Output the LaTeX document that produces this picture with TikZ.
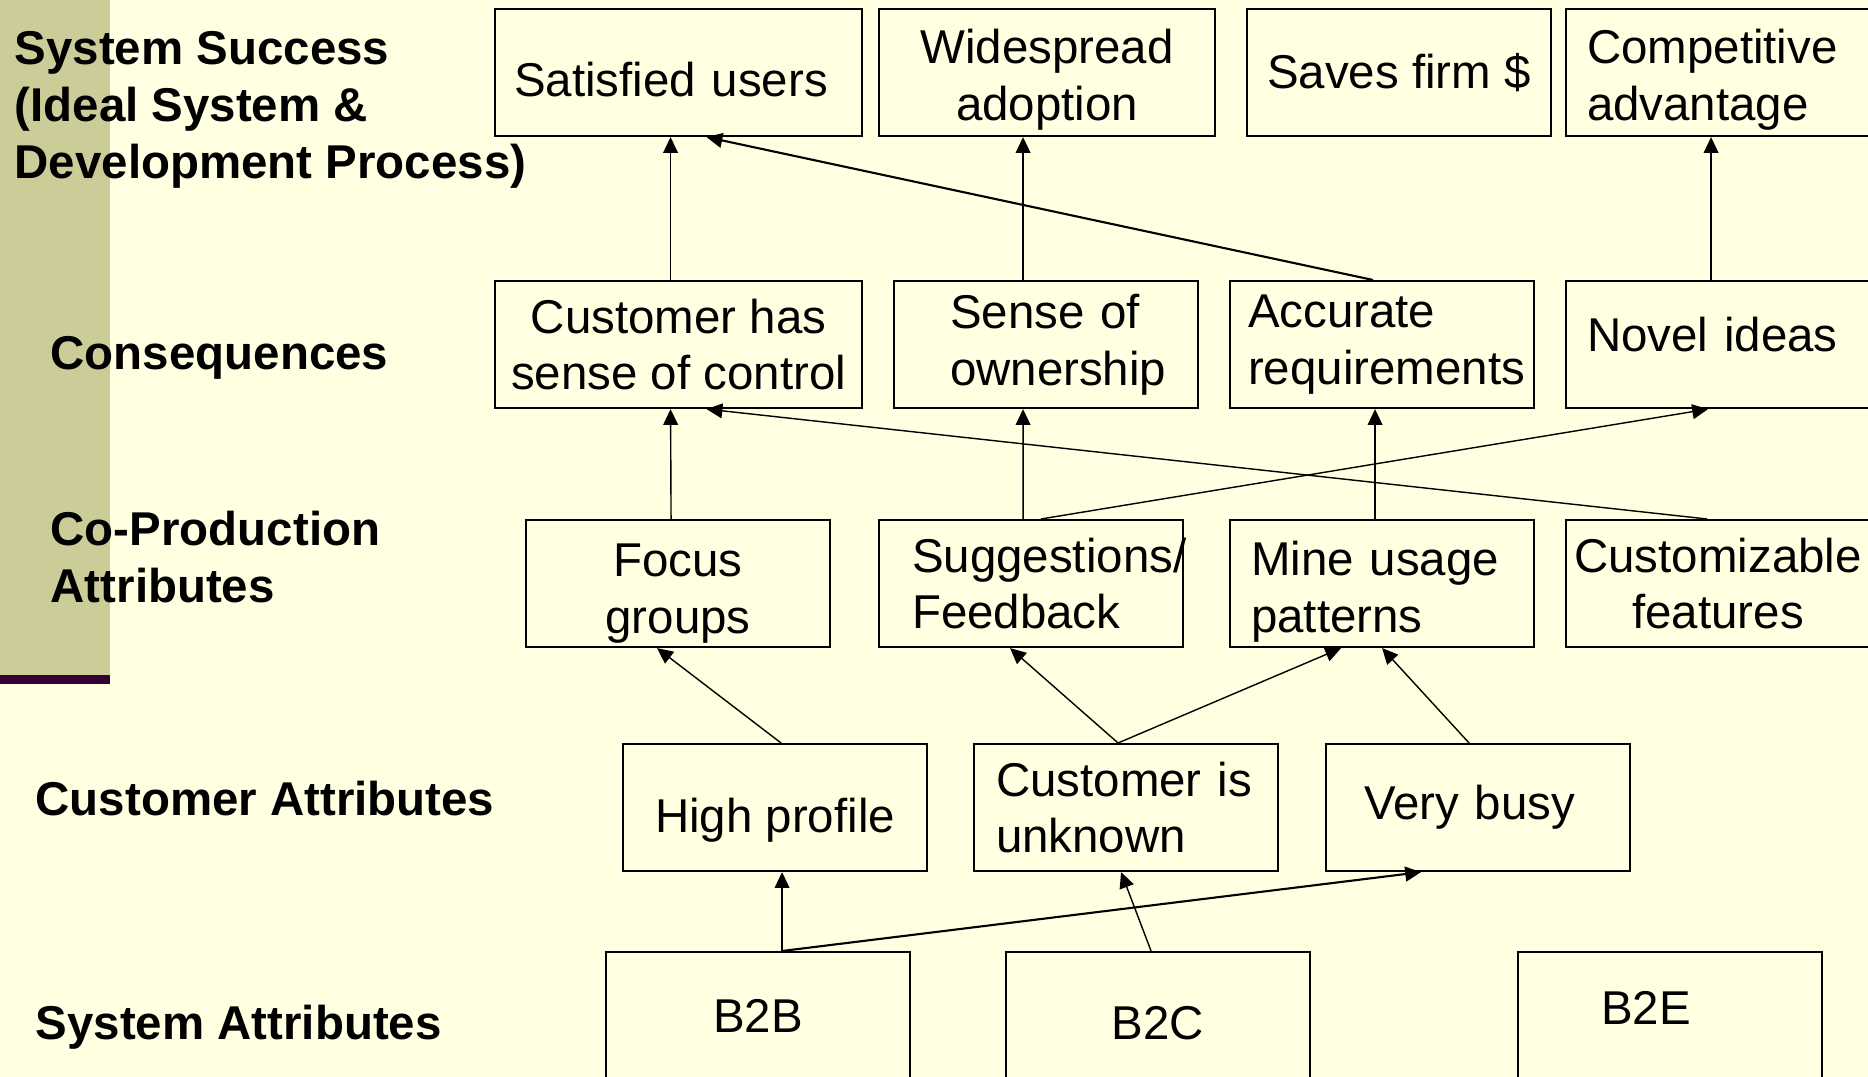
\documentclass[tikz,border=0pt]{standalone}
\usepackage{fontspec}
\setmainfont{Liberation Sans}
\usepackage{tikz}
\usetikzlibrary{arrows.meta}
\definecolor{slide-bg}{HTML}{FFFFE1}
\definecolor{slide-bar}{HTML}{CCCC99}
\definecolor{slide-rule}{HTML}{330033}
\tikzset{
    attr-box/.style = {draw, line width=0.6pt, rectangle, anchor=north west, inner sep=0pt, minimum width=3.04cm, minimum height=1.27cm, align=center, font=\fontsize{13.5}{16.2}\selectfont},
    attr-box-left/.style = {attr-box, align=left, text width=#1},
    level-label/.style = {anchor=west, align=left, inner sep=0pt, font=\fontsize{13.5}{16.2}\selectfont\bfseries},
    link-arrow/.style = {-{Triangle[length=4.5pt,width=4.2pt]}, line width=0.4pt},
}

\begin{document}
\begin{tikzpicture}
\useasboundingbox (0,0) rectangle (18.68,10.77);
\fill[slide-bg] (0,0) rectangle (18.68,10.77);
\fill[slide-bar] (0,10.77) rectangle (1.10,4.02);
\fill[slide-rule] (0,4.02) rectangle (1.10,3.93);

\node[level-label] (lbl-success) at (0.14,9.67) {System Success\\(Ideal System \&\\Development Process)};
\node[level-label] (lbl-conseq) at (0.50,7.19) {Consequences};
\node[level-label] (lbl-coprod) at (0.50,5.20) {Co-Production\\Attributes};
\node[level-label] (lbl-customer) at (0.35,2.78) {Customer Attributes};
\node[level-label] (lbl-system) at (0.35,0.50) {System Attributes};

\node[attr-box-left=3.29cm, minimum width=3.67cm, text height=13.85pt, text depth=0.2pt] (sat) at (4.94,10.69) {Satisfied users};
\node[attr-box, minimum width=3.36cm, text height=30pt, text depth=2.85pt] (wide) at (8.78,10.69) {Widespread\\adoption};
\node[attr-box] (saves) at (12.46,10.69) {Saves firm \$};
\node[attr-box-left=2.62cm, text height=13.8pt, text depth=19.05pt] (comp) at (15.65,10.69) {Competitive\\advantage};

\node[attr-box, minimum width=3.67cm] (ctrl) at (4.94,7.97) {Customer has\\sense of control};
\node[attr-box-left=1.92cm] (own) at (8.93,7.97) {Sense of\\ownership};
\node[attr-box-left=2.68cm] (acc) at (12.29,7.97) {Accurate\\requirements};
\node[attr-box-left=2.62cm, text height=9.8pt, text depth=5.6pt] (novel) at (15.65,7.97) {Novel ideas};

\node[attr-box, text height=31.3pt, text depth=2.85pt] (focus) at (5.25,5.58) {Focus\\groups};
\node[attr-box-left=2.38cm] (sugg) at (8.78,5.58) {Suggestions/\\Feedback};
\node[attr-box-left=2.62cm, text height=14.5pt, text depth=19.05pt] (mine) at (12.29,5.58) {Mine usage\\patterns};
\node[attr-box] (custom) at (15.65,5.58) {Customizable\\features};

\node[attr-box, text height=17.2pt, text depth=2.85pt] (high) at (6.22,3.34) {High profile};
\node[attr-box-left=2.60cm] (unknown) at (9.73,3.34) {Customer is\\unknown};
\node[attr-box-left=2.28cm] (busy) at (13.25,3.34) {Very busy};

\node[attr-box] (b2b) at (6.05,1.26) {B2B};
\node[attr-box, text height=13.85pt, text depth=0.2pt] (b2c) at (10.05,1.26) {B2C};
\node[attr-box-left=1.38cm, text height=9.8pt, text depth=4.8pt] (b2e) at (15.17,1.26) {B2E};

\draw[link-arrow] ([xshift=-0.08cm]ctrl.north) -- ([xshift=-0.08cm]sat.south);
\draw[link-arrow] ([xshift=-0.23cm]own.north) -- ([xshift=-0.24cm]wide.south);
\draw[link-arrow, line width=0.6pt] ([xshift=-0.09cm]acc.north) -- ([xshift=0.28cm]sat.south);
\draw[link-arrow] ([xshift=-0.07cm]novel.north) -- ([xshift=-0.07cm]comp.south);

\draw[link-arrow] ([xshift=-0.07cm]focus.north) -- ([xshift=-0.08cm]ctrl.south);
\draw[link-arrow] ([xshift=-0.08cm]sugg.north) -- ([xshift=-0.23cm]own.south);
\draw[link-arrow] ([xshift=-0.07cm]mine.north) -- ([xshift=-0.07cm]acc.south);
\draw[link-arrow] ([xshift=0.10cm]sugg.north) -- ([xshift=-0.10cm]novel.south);
\draw[link-arrow] ([xshift=-0.11cm]custom.north) -- ([xshift=0.28cm]ctrl.south);

\draw[link-arrow] ([xshift=0.06cm]high.north) -- ([xshift=-0.21cm]focus.south);
\draw[link-arrow] ([xshift=-0.08cm]unknown.north) -- ([xshift=-0.21cm]sugg.south);
\draw[link-arrow] ([xshift=-0.08cm]unknown.north) -- ([xshift=-0.41cm]mine.south);
\draw[link-arrow] ([xshift=-0.09cm]busy.north) -- (mine.south);

\draw[link-arrow] ([xshift=0.24cm]b2b.north) -- ([xshift=0.07cm]high.south);
\draw[link-arrow, line width=0.6pt] ([xshift=0.24cm]b2b.north) -- ([xshift=-0.57cm]busy.south);
\draw[link-arrow] ([xshift=-0.07cm]b2c.north) -- ([xshift=-0.05cm]unknown.south);
\end{tikzpicture}
\end{document}
